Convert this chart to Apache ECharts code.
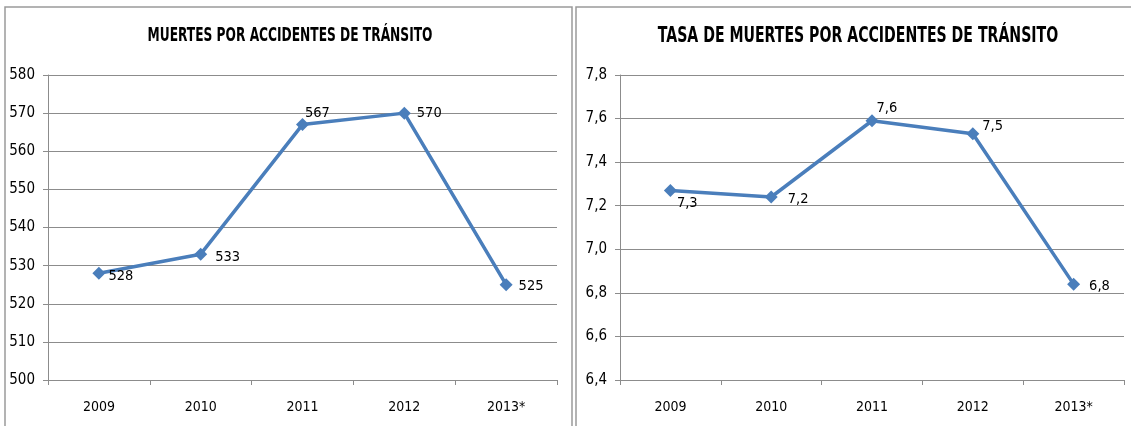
<!DOCTYPE html>
<html>
<head>
<meta charset="utf-8">
<script src="https://cdn.jsdelivr.net/npm/echarts@6/dist/echarts.min.js"></script>
<style>
  html, body { margin: 0; padding: 0; background: #fff; }
  #chart { width: 1131px; height: 426px; }
</style>
</head>
<body>
<div id="chart"></div>
<script>
// datos
var years = ['2009', '2010', '2011', '2012', '2013*'];
var muertes = [528, 533, 567, 570, 525];
var tasa = [7.27, 7.24, 7.59, 7.53, 6.84];
var muertesTicks = [500, 510, 520, 530, 540, 550, 560, 570, 580];
var tasaTicks = [6.4, 6.6, 6.8, 7.0, 7.2, 7.4, 7.6, 7.8];
var titulos = ['MUERTES POR ACCIDENTES DE TRÁNSITO', 'TASA DE MUERTES POR ACCIDENTES DE TRÁNSITO'];

var FONT = '"Liberation Sans Narrow", "DejaVu Sans Condensed", "Liberation Sans", sans-serif';
var BLUE = '#4a7ebb';
var GRID = '#8c8c8c';

// posicion de cada etiqueta de datos
var muertesPos = [[-2, 3], [3, 3], [-9, -11], [1, 0], [1, 2]];
var tasaPos = [[-5, 13], [5, 2], [-7, -13], [-2, -8], [4, 2]];

function labelData(vals, pos, fmt) {
  return vals.map(function (v, i) {
    return {
      value: v,
      label: {
        show: true,
        position: 'right',
        offset: pos[i],
        formatter: fmt(v)
      }
    };
  });
}

function yAxis(idx, min, max, interval, fmt) {
  return {
    type: 'value',
    gridIndex: idx,
    min: min,
    max: max,
    interval: interval,
    axisLine: { show: true, lineStyle: { color: GRID, width: 1 } },
    axisTick: { show: true, length: 5, lineStyle: { color: GRID } },
    axisLabel: { color: '#000', fontFamily: FONT, fontSize: 15, margin: 13, formatter: fmt },
    splitLine: { show: true, lineStyle: { color: GRID, width: 1 } }
  };
}

function xAxis(idx) {
  return {
    type: 'category',
    gridIndex: idx,
    data: years,
    boundaryGap: true,
    axisLine: { show: true, lineStyle: { color: GRID, width: 1 } },
    axisTick: { show: true, length: 5, alignWithLabel: false, lineStyle: { color: GRID } },
    axisLabel: { color: '#000', fontFamily: FONT, fontSize: 14, margin: 20 },
    splitLine: { show: false }
  };
}

// titulo estirado en vertical (la fuente original es mas alta y estrecha)
function titulo(text, x, size) {
  return {
    type: 'text',
    x: x, y: 36,
    scaleY: 1.4,
    style: {
      text: text,
      fill: '#000',
      fontFamily: FONT,
      fontSize: size,
      fontWeight: 'bold',
      align: 'center',
      verticalAlign: 'middle',
      textAlign: 'center',
      textVerticalAlign: 'middle'
    }
  };
}

var chart = echarts.init(document.getElementById('chart'));
chart.setOption({
  animation: false,
  backgroundColor: '#fff',
  graphic: [
    { type: 'rect', shape: { x: 5, y: 7, width: 567, height: 430 }, style: { fill: 'none', stroke: '#9a9a9a', lineWidth: 1.5 } },
    { type: 'rect', shape: { x: 576, y: 7, width: 560, height: 430 }, style: { fill: 'none', stroke: '#9a9a9a', lineWidth: 1.5 } },
    titulo(titulos[0], 290, 13.6),
    titulo(titulos[1], 858, 15.7)
  ],
  grid: [
    { left: 48, top: 75, width: 509, height: 305 },
    { left: 620, top: 75, width: 504, height: 305 }
  ],
  xAxis: [xAxis(0), xAxis(1)],
  yAxis: [
    yAxis(0, muertesTicks[0], muertesTicks[muertesTicks.length - 1], 10, function (v) { return String(v); }),
    yAxis(1, tasaTicks[0], tasaTicks[tasaTicks.length - 1], 0.2, function (v) { return v.toFixed(1).replace('.', ','); })
  ],
  series: [
    {
      type: 'line',
      xAxisIndex: 0, yAxisIndex: 0,
      data: labelData(muertes, muertesPos, function (v) { return String(v); }),
      symbol: 'diamond',
      symbolSize: 13,
      lineStyle: { color: BLUE, width: 3.5 },
      itemStyle: { color: BLUE },
      label: { color: '#000', fontFamily: FONT, fontSize: 14.5 }
    },
    {
      type: 'line',
      xAxisIndex: 1, yAxisIndex: 1,
      data: labelData(tasa, tasaPos, function (v) { return v.toFixed(1).replace('.', ','); }),
      symbol: 'diamond',
      symbolSize: 13,
      lineStyle: { color: BLUE, width: 3.5 },
      itemStyle: { color: BLUE },
      label: { color: '#000', fontFamily: FONT, fontSize: 14.5 }
    }
  ]
});
</script>
</body>
</html>
